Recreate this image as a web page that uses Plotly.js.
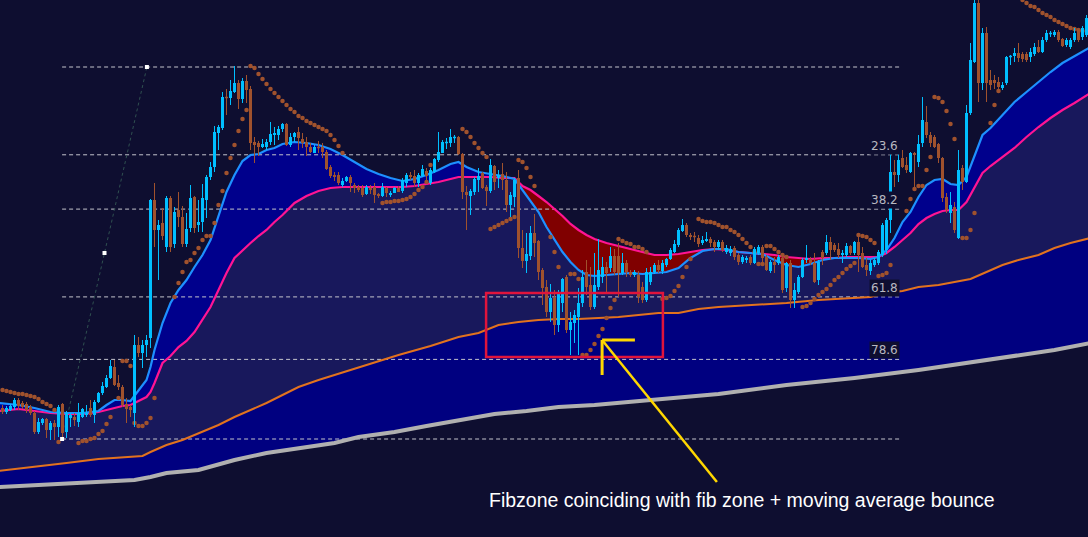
<!DOCTYPE html>
<html>
<head>
<meta charset="utf-8">
<script src="https://cdn.plot.ly/plotly-3.0.1.min.js"></script>
<style>
html,body{margin:0;padding:0;background:#0e0e30;}
#chart{width:1088px;height:537px;}
</style>
</head>
<body>
<div id="chart"></div>
<script>
// ---------------- DATA ----------------
const openP = [
132,128,130,133,140,137,136,133,127,108,
117,121,110,117,113,136,108,122,123,118,
123,125,132,125,138,147,153,162,173,157,
153,136,133,127,195,187,195,202,340,310,
317,293,342,296,330,323,296,312,343,315,
318,340,363,373,407,412,443,442,448,457,
441,459,451,398,397,393,393,398,405,405,
411,416,395,403,408,401,398,393,387,393,
393,388,373,365,365,355,359,363,355,353,
352,346,352,353,346,344,352,345,347,352,
349,357,365,364,357,364,369,357,368,380,
387,397,397,402,403,386,348,344,348,360,
367,353,349,374,362,366,360,335,343,362,
292,279,284,307,299,270,253,228,242,215,
237,263,210,217,223,237,268,255,233,253,
263,273,272,284,284,267,277,268,265,265,
253,240,258,268,275,269,275,281,288,295,
309,315,305,304,302,297,299,301,298,293,
298,288,287,292,285,278,280,283,277,287,
293,283,269,278,277,282,252,277,240,248,
263,280,281,277,260,288,287,298,295,291,
285,285,294,287,298,287,275,269,275,277,
285,290,320,368,365,382,375,368,387,378,
397,418,405,403,396,382,343,327,333,302,
372,358,427,478,537,457,507,460,460,458,
452,457,483,484,487,486,486,483,486,493,
488,500,506,505,508,501,495,493,500,509,
503,505];
const highP = [
135,134,136,142,142,139,138,135,129,122,
122,122,119,120,135,137,129,127,127,137,
132,135,140,140,148,158,165,180,180,165,
155,142,135,205,203,200,205,341,357,320,
332,344,344,333,348,334,327,355,344,340,
356,365,378,414,415,448,451,460,474,460,
462,465,454,403,399,401,401,418,413,414,
417,417,407,408,413,407,403,397,395,399,
397,390,375,368,368,362,364,365,357,355,
355,355,355,357,347,357,353,349,353,354,
362,367,368,370,367,375,372,372,382,408,
400,402,411,405,404,387,354,351,363,372,
368,355,381,375,370,377,368,348,362,370,
310,307,314,326,300,272,260,256,250,250,
262,265,228,230,252,270,280,273,287,301,
283,278,293,291,297,287,280,270,270,269,
258,272,273,277,280,280,282,292,300,312,
321,317,307,308,305,304,308,303,300,300,
300,295,294,294,287,285,284,285,293,295,
295,285,280,283,285,284,278,280,257,265,
282,295,283,287,280,290,305,303,297,297,
290,297,295,299,307,293,282,280,282,290,
317,322,387,380,392,390,383,388,388,405,
443,434,408,405,397,383,347,348,338,390,
375,435,497,545,545,512,513,470,465,463,
458,484,485,492,497,488,488,492,497,500,
503,510,509,510,510,502,502,502,512,512,
514,525];
const lowP = [
126,126,129,130,130,131,127,125,106,106,
115,102,100,100,103,101,102,113,114,113,
122,123,123,117,137,145,152,161,154,150,
133,117,123,113,183,172,183,192,293,260,
300,288,288,292,313,293,293,308,307,308,
308,322,360,368,390,410,425,435,447,431,
437,437,390,377,384,392,390,395,395,400,
408,394,393,398,390,392,384,387,387,387,
382,370,362,359,355,353,358,348,347,348,
343,345,346,337,342,343,343,343,347,348,
347,353,360,353,353,363,358,355,367,378,
387,391,393,397,385,341,310,325,345,348,
351,334,347,350,352,350,328,323,333,282,
272,267,280,283,260,235,223,218,205,208,
228,207,185,197,185,233,245,230,231,250,
257,248,268,265,243,265,263,263,263,237,
237,238,255,266,267,266,273,280,287,293,
308,303,300,298,293,295,298,293,288,290,
288,286,284,280,275,276,277,275,276,285,
278,269,267,267,275,247,248,232,232,246,
262,277,275,257,255,275,285,280,288,282,
277,283,285,285,268,272,264,265,273,275,
283,286,307,353,358,372,367,367,353,373,
393,402,393,392,377,338,327,317,307,301,
350,357,425,477,438,450,438,450,451,448,
450,455,475,478,478,478,478,478,484,487,
487,498,503,503,498,493,493,491,498,498,
500,503];
const closeP = [
128,132,134,140,134,133,130,127,108,118,
121,110,117,113,133,107,127,125,120,127,
131,127,125,138,147,154,162,174,155,153,
135,131,130,195,187,195,200,340,310,315,
304,342,293,328,323,296,311,342,312,318,
342,363,373,408,413,443,442,449,457,441,
459,450,397,395,393,396,398,406,407,411,
416,395,403,407,402,397,393,388,393,392,
388,371,364,363,357,359,363,357,352,350,
345,353,350,345,344,353,347,347,352,348,
360,365,363,357,365,371,364,370,381,388,
398,398,403,403,386,348,345,349,361,364,
352,349,375,358,365,360,335,345,360,292,
279,286,307,297,268,252,228,242,215,248,
261,210,218,225,237,263,253,233,255,270,
273,267,284,268,267,277,268,265,268,243,
240,268,268,275,270,277,281,290,296,310,
315,305,303,303,296,300,301,297,293,298,
290,292,291,283,278,283,282,277,291,293,
282,270,278,275,283,250,277,240,250,263,
280,282,277,258,278,282,298,290,290,285,
287,294,287,298,285,273,270,277,280,288,
315,320,368,365,380,373,370,387,385,396,
420,405,397,393,382,342,330,335,310,370,
358,427,480,537,457,507,457,455,457,453,
455,483,484,487,482,481,480,488,493,488,
500,507,507,508,500,494,500,500,507,500,
512,522];

// moving averages (fast = blue, slow = pink) read on a common bar grid
const maBars = [-1,4,8,12,16,20,24,26,28,30,32,34,36,37,38,40,42,44,46,48,50,52,54,56,58,60,62,64,66,68,70,73,76,79,82,85,88,91,94,97,100,103,106,109,112,114,116,119,122,125,128,130,132,134,136,138,140,142,144,146,148,151,154,157,160,163,166,169,172,175,178,181,184,187,190,193,196,199,202,205,208,211,214,217,219,221,223,225,227,229,231,233,235,237,239,241,243,245,247,250,253,256,259,262,265,268,272];
const fastMA = [137,135,132,128,127,127,129,135,140,140,139,150,160,173,190,217,237,250,260,273,285,300,325,348,365,379,385,386,390,392,396,398,397,395,391,385,378,371,366,362,359,361,365,370,376,378,373,368,366,364,361,350,340,328,313,300,288,278,270,265,264,265,266,267,266,267,268,272,282,289,291,291,288,287,286,280,275,273,276,280,282,282,282,281,283,290,302,318,328,343,355,360,361,356,355,363,383,405,412,425,438,448,458,468,477,484,493];
const slowMA = [129,131,129,127,126,126,128,130,132,134,135,139,143,148,157,177,184,193,199,208,220,233,250,267,282,290,297,304,310,318,325,337,344,349,352,353,353,353,353,353,353,354,356,358,361,363,363,363,363,362,362,354,350,344,338,331,324,316,310,305,301,297,294,291,288,285,285,286,288,290,291,290,288,287,286,285,283,282,281,282,282,283,283,283,283,287,293,300,307,316,322,326,329,330,330,338,352,367,374,383,392,403,413,422,430,437,447];

// long moving averages
const orangeBars = [-1,8,16,24,33,35,37,41,45,49,54,58,62,66,70,74,79,83,87,89,99,107,114,119,124,129,134,139,144,149,154,159,164,169,174,179,188,196,204,213,217,221,225,229,234,238,242,246,250,254,259,263,267,272];
const orangeMA = [69,73,77,81,83,84,88,95,100,107,115,123,130,137,145,153,160,165,170,173,185,194,203,207,215,218,220,221,221,222,223,225,227,227,231,233,235,237,240,242,243,247,249,253,255,258,261,268,275,280,285,292,297,302];
const grayBars = [-1,8,16,24,33,37,41,49,58,66,74,83,89,98,106,114,123,131,139,148,156,164,173,179,196,213,229,246,263,272];
const grayMA = [53,55,57,59,60,63,67,70,80,87,92,97,103,108,114,120,126,129,133,135,138,141,144,146,155,162,170,180,190,197];

// parabolic SAR dots
const sarBars = [0,1,2,3,4,5,6,7,8,9,10,11,12,13,14,19,20,21,22,23,24,25,26,27,29,30,31,32,33,34,35,36,37,38,43,44,45,46,47,48,49,50,51,52,53,54,55,56,57,58,59,60,61,62,63,64,65,66,67,68,69,70,71,72,73,74,75,76,77,78,79,80,81,82,83,84,85,95,96,97,98,99,100,101,102,103,104,105,106,107,115,116,117,118,119,120,121,122,123,124,125,126,127,128,129,130,131,132,133,137,138,139,142,143,144,145,146,147,148,149,150,151,152,153,154,155,156,157,158,159,160,161,165,166,167,168,169,170,171,172,174,175,176,177,178,179,180,181,182,183,184,185,186,187,188,189,190,191,192,193,194,195,196,200,201,202,203,204,205,206,207,208,209,210,211,212,213,214,215,216,217,218,219,220,221,222,226,227,228,229,230,231,232,233,234,235,236,237,238,240,241,242,243,247,248,249,255,256,257,258,259,260,261,262,263,264,265,266,267,268,269,270];
const sarVals = [150,149,148,147,146,146,145,144,143,141,138,136,134,130,98,97,99,99,101,102,106,109,116,123,142,179,179,174,117,114,114,117,122,142,243,257,268,278,280,287,292,300,304,304,317,335,349,367,382,395,409,421,430,474,472,466,461,456,451,447,443,439,435,431,428,424,422,419,417,415,413,411,409,405,400,394,387,337,338,338,339,339,340,341,343,346,350,353,358,375,411,408,403,397,392,387,383,311,313,315,317,319,321,323,380,378,372,363,354,303,288,273,266,266,261,185,185,190,196,204,211,222,232,240,301,299,297,296,293,293,291,288,241,242,244,249,254,263,273,281,321,319,318,318,317,315,313,313,310,308,305,301,297,293,288,276,276,294,294,291,288,285,283,233,234,237,241,245,248,251,255,260,263,267,271,274,277,305,304,303,300,297,264,265,267,275,329,341,351,354,354,370,383,443,442,438,429,416,401,302,302,310,327,417,435,449,540,537,534,533,530,527,525,523,520,518,516,514,512,511,510,509];

// Fibonacci retracement drawn on the rally
const swingLow = 101;
const swingHigh = 473;
const fibAnchorBars = [14.9, 36.1];
const fibEndBar = 224.4;
const fibRatios = [0, 0.236, 0.382, 0.618, 0.786, 1];
const fibLabels = ['', '23.6', '38.2', '61.8', '78.6', ''];

// highlighted zone and note
const zoneBars = [120.9, 165.1];
const zonePrices = [183, 247];
const arrowTail = [178.6, 58];
const arrowTip = [150.1, 199];
const noteText = 'Fibzone coinciding with fib zone + moving average bounce';
const noteAt = [184.9, 40];

// ---------------- BUILD ----------------
const BG = '#0e0e30';
const n = closeP.length;
const maxBP = fastMA.map((v, i) => Math.max(v, slowMA[i]));
const minBP = fastMA.map((v, i) => Math.min(v, slowMA[i]));

function segs(idx, a, b, minLen) {
  const xs = [], ys = [];
  idx.forEach(k => {
    let lo = Math.min(a[k], b[k]), hi = Math.max(a[k], b[k]);
    if (minLen && hi - lo < minLen) { const m = (hi + lo) / 2; lo = m - minLen / 2; hi = m + minLen / 2; }
    xs.push(k, k, null); ys.push(lo, hi, null);
  });
  return {xs, ys};
}
const all = Array.from({length: n}, (_, i) => i);
const upIdx = all.filter(k => closeP[k] >= openP[k]);
const dnIdx = all.filter(k => closeP[k] < openP[k]);
const UP = '#00bfff', DN = '#a0522d';

const inv = {mode: 'lines', line: {width: 0}, hoverinfo: 'skip', showlegend: false};
const traces = [];
traces.push(Object.assign({x: grayBars, y: grayMA}, inv));
traces.push(Object.assign({x: orangeBars, y: orangeMA, fill: 'tonexty', fillcolor: '#000080'}, inv));
traces.push(Object.assign({x: maBars, y: minBP, fill: 'tonexty', fillcolor: '#18185c'}, inv));
traces.push(Object.assign({x: maBars, y: fastMA}, inv));
traces.push(Object.assign({x: maBars, y: maxBP, fill: 'tonexty', fillcolor: '#800000'}, inv));
traces.push(Object.assign({x: maBars, y: slowMA}, inv));
traces.push(Object.assign({x: maBars, y: maxBP, fill: 'tonexty', fillcolor: '#00008c'}, inv));

// fib lines
const fx = [], fy = [];
fibRatios.forEach(r => {
  const lv = swingHigh - r * (swingHigh - swingLow);
  fx.push(fibAnchorBars[0], fibEndBar, null); fy.push(lv, lv, null);
});
traces.push({x: fx, y: fy, mode: 'lines', line: {color: '#c4c4cc', width: 1, dash: '4px,3px'}, hoverinfo: 'skip'});
traces.push({x: fibAnchorBars, y: [swingLow, swingHigh], mode: 'lines', line: {color: '#2f5050', width: 1, dash: '3px,3px'}, hoverinfo: 'skip'});

// MA lines
traces.push({x: grayBars, y: grayMA, mode: 'lines', line: {color: '#b0b0b0', width: 4}, hoverinfo: 'skip'});
traces.push({x: orangeBars, y: orangeMA, mode: 'lines', line: {color: '#e2721e', width: 2}, hoverinfo: 'skip'});
traces.push({x: maBars, y: slowMA, mode: 'lines', line: {color: '#ff1493', width: 2.2}, hoverinfo: 'skip'});
traces.push({x: maBars, y: fastMA, mode: 'lines', line: {color: '#1e90ff', width: 2.2}, hoverinfo: 'skip'});

// SAR
traces.push({x: sarBars, y: sarVals, mode: 'markers', marker: {color: '#a0522d', size: 4.5, symbol: 'circle', line: {width: 0}}, hoverinfo: 'skip'});

// candles
const wu = segs(upIdx, lowP, highP, 0), wd = segs(dnIdx, lowP, highP, 0);
const bu = segs(upIdx, openP, closeP, 1.5), bd = segs(dnIdx, openP, closeP, 1.5);
traces.push({x: wu.xs, y: wu.ys, mode: 'lines', line: {color: UP, width: 1}, hoverinfo: 'skip'});
traces.push({x: wd.xs, y: wd.ys, mode: 'lines', line: {color: DN, width: 1}, hoverinfo: 'skip'});
traces.push({x: bu.xs, y: bu.ys, mode: 'lines', line: {color: UP, width: 3}, hoverinfo: 'skip'});
traces.push({x: bd.xs, y: bd.ys, mode: 'lines', line: {color: DN, width: 3}, hoverinfo: 'skip'});

// fib anchor points
traces.push({x: [fibAnchorBars[0], (fibAnchorBars[0] + fibAnchorBars[1]) / 2, fibAnchorBars[1]],
  y: [swingLow, (swingLow + swingHigh) / 2, swingHigh], mode: 'markers',
  marker: {color: '#ffffff', size: 4, symbol: 'square', line: {width: 0}}, hoverinfo: 'skip'});

const annotations = [];
fibRatios.forEach((r, i) => {
  if (!fibLabels[i]) return;
  const lv = swingHigh - r * (swingHigh - swingLow);
  annotations.push({x: fibEndBar, y: lv, xref: 'x', yref: 'y', text: fibLabels[i], showarrow: false,
    xanchor: 'right', yanchor: 'bottom', bgcolor: BG, borderpad: 1,
    font: {family: 'DejaVu Sans', size: 12, color: '#b8b8c0'}});
});
annotations.push({x: noteAt[0], y: noteAt[1], xref: 'x', yref: 'y', text: noteText, showarrow: false,
  xanchor: 'center', yanchor: 'middle', font: {family: 'Liberation Sans, Arial', size: 19.5, color: '#ffffff'}});

const YEL = '#ffd700';
const shapes = [
  {type: 'rect', xref: 'x', yref: 'y', x0: zoneBars[0], x1: zoneBars[1], y0: zonePrices[0], y1: zonePrices[1],
   line: {color: '#e0143c', width: 2.5}, layer: 'above'},
  {type: 'line', xref: 'x', yref: 'y', x0: arrowTail[0], y0: arrowTail[1], x1: arrowTip[0], y1: arrowTip[1],
   line: {color: YEL, width: 2.5}, layer: 'above'},
  {type: 'line', xref: 'x', yref: 'y', x0: arrowTip[0] - 0.2, y0: arrowTip[1] + 1, x1: arrowTip[0] - 0.2, y1: arrowTip[1] - 34,
   line: {color: YEL, width: 3}, layer: 'above'},
  {type: 'line', xref: 'x', yref: 'y', x0: arrowTip[0] - 0.2, y0: arrowTip[1] + 1, x1: arrowTip[0] + 8, y1: arrowTip[1] + 1,
   line: {color: YEL, width: 3}, layer: 'above'}
];

const layout = {
  width: 1088, height: 537, autosize: false,
  margin: {l: 0, r: 0, t: 0, b: 0, pad: 0},
  paper_bgcolor: BG, plot_bgcolor: BG,
  showlegend: false,
  xaxis: {range: [-0.625, 271.375], visible: false, showgrid: false, zeroline: false, fixedrange: true},
  yaxis: {range: [3, 540], visible: false, showgrid: false, zeroline: false, fixedrange: true},
  annotations: annotations, shapes: shapes,
  hovermode: false
};
Plotly.newPlot('chart', traces, layout, {staticPlot: true, displayModeBar: false});
</script>
</body>
</html>
